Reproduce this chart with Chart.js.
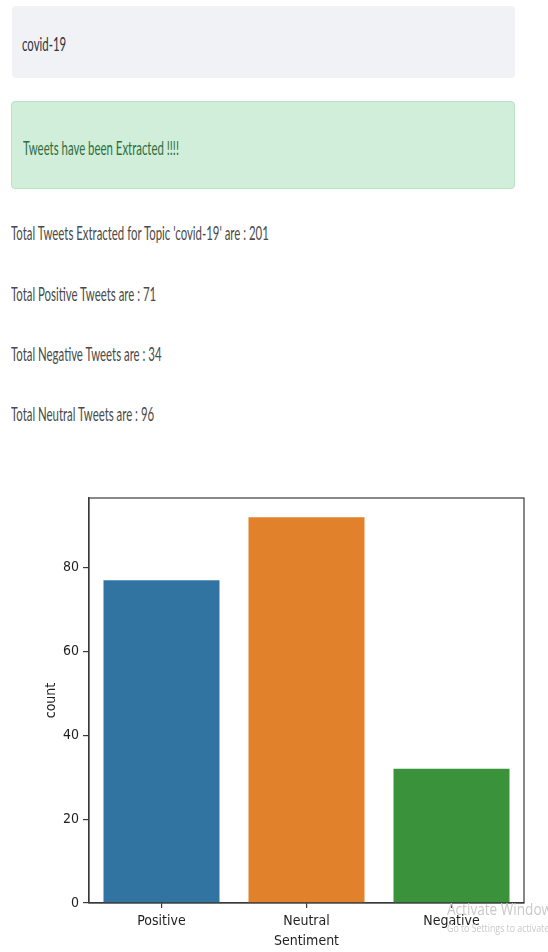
<!DOCTYPE html>
<html>
<head>
<meta charset="utf-8">
<script src="https://cdn.jsdelivr.net/npm/chart.js@4/dist/chart.umd.min.js"></script>
<style>
  html, body { margin: 0; padding: 0; background: #fff; }
  body { width: 548px; height: 952px; position: relative; overflow: hidden; font-family: Lato, "Open Sans", sans-serif; }
  .box { position: absolute; border-radius: 4px; }
  .txt { position: absolute; white-space: nowrap; transform-origin: left center; transform: scaleX(0.57); font-size: 20px; line-height: 20px; }
  #chartWrap { position: absolute; left: 0; top: 470px; width: 548px; height: 482px; }
  .wm { position: absolute; white-space: nowrap; color: #c9c9c9; font-family: "Open Sans", sans-serif; transform-origin: left center; transform: scaleX(0.8); }
</style>
</head>
<body>
<div class="box" style="left:12px;top:6px;width:503px;height:72px;background:#f0f2f6;"></div>
<div class="txt" id="inputTxt" style="left:22px;top:33px;color:#31333f;"></div>
<div class="box" style="left:11px;top:101px;width:502px;height:86px;background:#d1eedb;border:1px solid #b9e2c6;"></div>
<div class="txt" id="alertTxt" style="left:23px;top:137px;color:#2f6e42;"></div>
<div class="txt" id="line1" style="left:11px;top:222px;color:#4a4a4a;"></div>
<div class="txt" id="line2" style="left:11px;top:283px;color:#4a4a4a;"></div>
<div class="txt" id="line3" style="left:11px;top:343px;color:#4a4a4a;"></div>
<div class="txt" id="line4" style="left:11px;top:403px;color:#4a4a4a;"></div>
<div id="chartWrap"><canvas id="c"></canvas></div>
<div class="wm" style="left:447px;top:897px;font-size:17px;">Activate Windows</div>
<div class="wm" style="left:447px;top:920px;font-size:11px;">Go to Settings to activate Windows.</div>
<script>
const topic = 'covid-19';
const summaryLabels = ['Total Tweets Extracted for Topic \'' + topic + '\' are', 'Total Positive Tweets are', 'Total Negative Tweets are', 'Total Neutral Tweets are'];
const summaryValues = [201, 71, 34, 96];
const alertText = 'Tweets have been Extracted !!!!';

const categories = ['Positive', 'Neutral', 'Negative'];
const counts = [77, 92, 32];
const barColors = ['#3274a1', '#e1812c', '#3a923a'];
const yTicks = [0, 20, 40, 60, 80];
const yMax = 96.6;

document.getElementById('inputTxt').textContent = topic;
document.getElementById('alertTxt').textContent = alertText;
summaryLabels.forEach((l, i) => {
  document.getElementById('line' + (i + 1)).textContent = l + ' : ' + summaryValues[i];
});

const framePlugin = {
  id: 'frame',
  afterDatasetsDraw(chart) {
    const {ctx, chartArea: a} = chart;
    ctx.save();
    ctx.strokeStyle = '#3a3a3a';
    ctx.lineWidth = 1.2;
    ctx.strokeRect(a.left, a.top, a.right - a.left, a.bottom - a.top);
    ctx.restore();
  }
};

const font = { family: '"DejaVu Sans Condensed", "DejaVu Sans", sans-serif', size: 14 };

new Chart(document.getElementById('c'), {
  type: 'bar',
  data: {
    labels: categories,
    datasets: [{ data: counts, backgroundColor: barColors, borderWidth: 0, categoryPercentage: 1.0, barPercentage: 0.8 }]
  },
  options: {
    responsive: true,
    maintainAspectRatio: false,
    animation: false,
    layout: { padding: { left: 0, right: 24, top: 28, bottom: 0 } },
    plugins: { legend: { display: false }, tooltip: { enabled: false } },
    scales: {
      x: {
        offset: true,
        grid: { display: true, drawOnChartArea: false, offset: false, tickLength: 5, color: '#3a3a3a', lineWidth: 1.2 },
        border: { display: true, color: '#3a3a3a', width: 1.2 },
        ticks: { color: '#1f1f1f', font: font, padding: 5, maxRotation: 0 },
        title: { display: true, text: 'Sentiment', color: '#1f1f1f', font: font, padding: { top: 2, bottom: 2 } },
        afterFit(s) { s.height = 49; }
      },
      y: {
        min: 0,
        max: yMax,
        afterBuildTicks(s) { s.ticks = yTicks.map(v => ({ value: v })); },
        grid: { display: true, drawOnChartArea: false, tickLength: 6, color: '#3a3a3a', lineWidth: 1.2 },
        border: { display: true, color: '#3a3a3a', width: 1.2 },
        ticks: { color: '#1f1f1f', font: font, padding: 4 },
        title: { display: true, text: 'count', color: '#1f1f1f', font: font, padding: { top: 43, bottom: 0 } },
        afterFit(s) { s.width = 89; }
      }
    }
  },
  plugins: [framePlugin]
});
</script>
</body>
</html>
